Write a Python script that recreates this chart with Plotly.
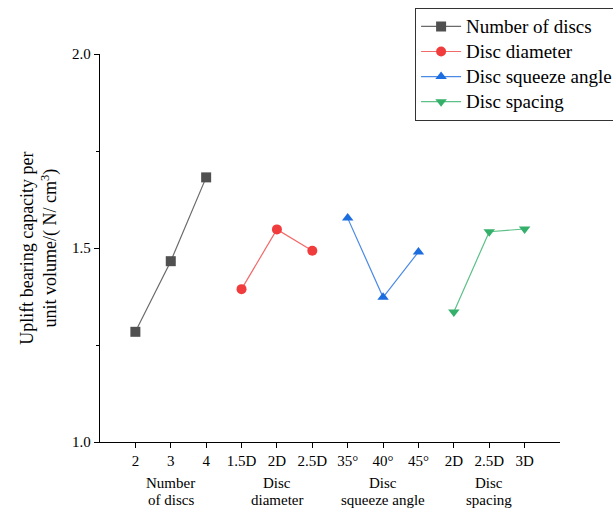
import plotly.graph_objects as go

# Tick labels along the shared category axis
tick_labels = ["2", "3", "4", "1.5D", "2D", "2.5D", "35°", "40°", "45°", "2D", "2.5D", "3D"]

# Uplift bearing capacity per unit volume (N/cm^3) for each factor
number_of_discs = [1.284, 1.466, 1.682]
disc_diameter = [1.394, 1.548, 1.493]
disc_squeeze_angle = [1.577, 1.373, 1.490]
disc_spacing = [1.335, 1.542, 1.549]

# Two-line group captions under the tick labels
group_titles = [("Number", "of discs"), ("Disc", "diameter"), ("Disc", "squeeze angle"), ("Disc", "spacing")]

series = [
    ("Number of discs", number_of_discs, "#505050", "#6a6a6a", "square"),
    ("Disc diameter", disc_diameter, "#f03c3c", "#f36a6a", "circle"),
    ("Disc squeeze angle", disc_squeeze_angle, "#1c6ee0", "#4a8ae6", "triangle-up"),
    ("Disc spacing", disc_spacing, "#35b06a", "#5cc088", "triangle-down"),
]

FONT = "Liberation Serif, Times New Roman, serif"

fig = go.Figure()
for g, (name, vals, mcol, lcol, sym) in enumerate(series):
    xs = [g * 3 + i for i in range(len(vals))]
    fig.add_trace(go.Scatter(
        x=xs, y=vals, name=f'<span style="font-size:19px">{name}</span>',
        mode="lines+markers",
        line=dict(color=lcol, width=1.2),
        marker=dict(symbol=sym, size=10, color=mcol),
    ))

for g, (line1, line2) in enumerate(group_titles):
    for text, ypos in ((line1, -0.106), (line2, -0.150)):
        fig.add_annotation(
            x=g * 3 + 1, y=ypos, xref="x", yref="paper",
            text=text, showarrow=False, xanchor="center", yanchor="middle",
            font=dict(family=FONT, size=15, color="black"),
        )

fig.add_annotation(
    x=-0.133, y=0.5, xref="paper", yref="paper",
    text="Uplift bearing capacity per<br>unit volume/( N/ cm<sup>3</sup>)",
    textangle=-90, showarrow=False, xanchor="center", yanchor="middle",
    font=dict(family=FONT, size=18, color="black"),
)

fig.update_layout(
    width=613, height=508,
    margin=dict(l=100, r=53, t=54, b=66, autoexpand=False),
    plot_bgcolor="white", paper_bgcolor="white",
    font=dict(family=FONT, color="black"),
    showlegend=True,
    legend=dict(
        x=0.685, y=1.119, xanchor="left", yanchor="top",
        bgcolor="white", bordercolor="#333333", borderwidth=1,
        font=dict(family=FONT, size=17, color="black"),
        tracegroupgap=0, itemwidth=40,
    ),
    xaxis=dict(
        range=[-1, 12], tickmode="array",
        tickvals=list(range(len(tick_labels))), ticktext=tick_labels,
        showgrid=False, zeroline=False,
        showline=True, linecolor="black", linewidth=1.3,
        ticks="outside", ticklen=5, tickcolor="black", tickwidth=1.3,
        tickfont=dict(family=FONT, size=15, color="black"),
    ),
    yaxis=dict(
        range=[1, 2], tickvals=[1.0, 1.5, 2.0], ticktext=["1.0", "1.5", "2.0"],
        showgrid=False, zeroline=False,
        showline=True, linecolor="black", linewidth=1.3,
        ticks="outside", ticklen=5, tickcolor="black", tickwidth=1.3,
        minor=dict(tickvals=[1.25, 1.75], ticks="outside", ticklen=3, tickcolor="black"),
        tickfont=dict(family=FONT, size=15, color="black"),
    ),
)

fig.write_html("out.html")
